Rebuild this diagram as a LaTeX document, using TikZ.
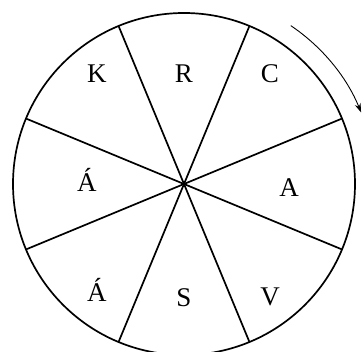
\documentclass[tikz,border=0pt]{standalone}
\usepackage{fontspec}
\setmainfont{Liberation Serif}
\usetikzlibrary{arrows.meta}

\begin{document}
\begin{tikzpicture}[
	x=1pt, y=1pt,
	rim/.style={draw=black, line width=1.7pt},
	spoke/.style={draw=black, line width=1.7pt},
	letter/.style={anchor=base, inner sep=0pt, font=\fontsize{27}{32}\selectfont},
	turn/.style={-{Stealth[length=9pt, width=6pt]}, line width=0.9pt}
	]
	\useasboundingbox (-184,-168) rectangle (180,184);
	\coordinate (o) at (0,0);
	\draw[rim] (o) circle (171);
	\foreach \a in {22.5,67.5,...,337.5}
		\draw[spoke] (o) -- (\a:171);
	\node[letter] (k) at (-87,101) {K};
	\node[letter] (r) at (0,101) {R};
	\node[letter] (c) at (86,101) {C};
	\node[letter] (a) at (105,-13) {A};
	\node[letter] (aw) at (-97,-8) {Á};
	\node[letter] (as) at (-87,-118) {Á};
	\node[letter] (s) at (0,-123) {S};
	\node[letter] (v) at (86,-122) {V};
	\coordinate (t1) at (56:191);
	\draw[turn] (t1) arc (56:22:191);
\end{tikzpicture}
\end{document}
